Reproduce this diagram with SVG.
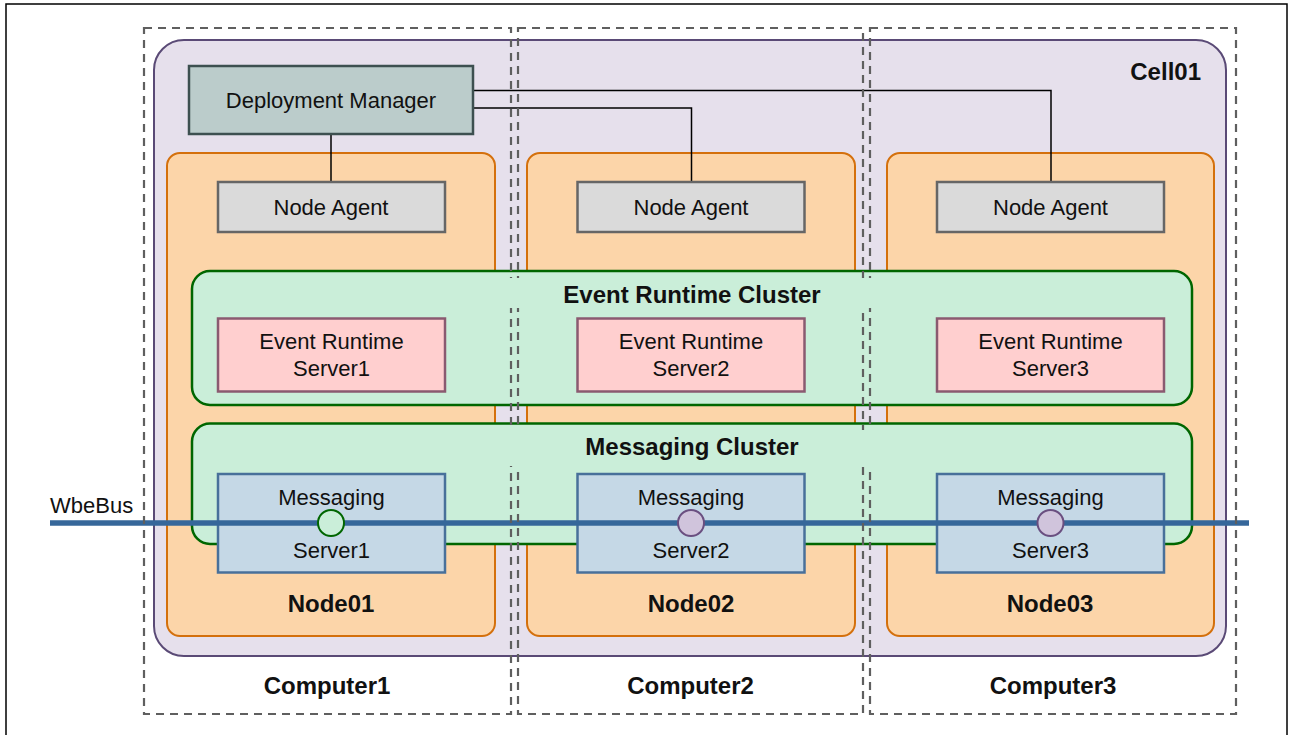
<svg xmlns="http://www.w3.org/2000/svg" width="1292" height="735" viewBox="0 0 1292 735">
  <style>
    .t { font-family: "Liberation Sans", Arial, sans-serif; font-size: 22px; fill: #111; text-anchor: middle; }
    .b { font-family: "Liberation Sans", Arial, sans-serif; font-size: 24px; font-weight: bold; fill: #111; text-anchor: middle; }
    .cell { fill: #e6e0ec; stroke: #5a4a76; stroke-width: 2; }
    .node { fill: #fcd5a9; stroke: #d4700c; stroke-width: 2; }
    .cluster { fill: #caeed9; stroke: #006600; stroke-width: 2.5; }
    .dm { fill: #bbcccb; stroke: #3d5050; stroke-width: 2.5; }
    .agent { fill: #dadada; stroke: #666666; stroke-width: 2.5; }
    .er { fill: #ffcfcf; stroke: #8a5a70; stroke-width: 2.5; }
    .msg { fill: #c5d8e6; stroke: #48709a; stroke-width: 2.5; }
    .computer { fill: none; stroke: #5f5f5f; stroke-width: 2.2; stroke-dasharray: 8 6; }
    .link { fill: none; stroke: #000; stroke-width: 1.5; }
    .bus { stroke: #36679a; stroke-width: 5.5; }
    .ep-green { fill: #caeed9; stroke: #006600; stroke-width: 2; }
    .ep-purple { fill: #d0c4dc; stroke: #6a4f80; stroke-width: 2; }
  </style>
  <defs>
    <!-- the cluster title bands hide the computer boundaries behind them -->
    <mask id="titleBands" maskUnits="userSpaceOnUse" x="0" y="0" width="1292" height="735">
      <rect x="0" y="0" width="1292" height="735" fill="#fff"/>
      <rect x="194" y="278" width="996" height="30" fill="#000"/>
      <rect x="194" y="430" width="996" height="36" fill="#000"/>
    </mask>
  </defs>

  <rect x="0" y="0" width="1292" height="735" fill="#fff"/>
  <rect x="6" y="4" width="1281" height="745" fill="none" stroke="#000" stroke-width="1.5"/>

  <g id="cell01">
    <rect class="cell" x="154" y="40" width="1072" height="616" rx="30" ry="30"/>
    <text class="b" x="1201" y="80" style="text-anchor:end">Cell01</text>
  </g>

  <g id="node01">
    <rect class="node" x="167" y="153" width="328" height="483" rx="13" ry="13"/>
    <text class="b" x="331" y="612">Node01</text>
  </g>
  <g id="node02">
    <rect class="node" x="527" y="153" width="328" height="483" rx="13" ry="13"/>
    <text class="b" x="691" y="612">Node02</text>
  </g>
  <g id="node03">
    <rect class="node" x="887" y="153" width="327" height="483" rx="13" ry="13"/>
    <text class="b" x="1050" y="612">Node03</text>
  </g>

  <g id="connectors">
    <path class="link" d="M331 134 V182"/>
    <path class="link" d="M473 108 H691.5 V182"/>
    <path class="link" d="M473 90.5 H1051 V182"/>
  </g>

  <g id="deployment-manager">
    <rect class="dm" x="189" y="66" width="284" height="68"/>
    <text class="t" x="331" y="108">Deployment Manager</text>
  </g>

  <g id="node-agent1">
    <rect class="agent" x="218" y="182" width="227" height="50"/>
    <text class="t" x="331" y="215">Node Agent</text>
  </g>
  <g id="node-agent2">
    <rect class="agent" x="577.5" y="182" width="227" height="50"/>
    <text class="t" x="691" y="215">Node Agent</text>
  </g>
  <g id="node-agent3">
    <rect class="agent" x="937" y="182" width="227" height="50"/>
    <text class="t" x="1050.5" y="215">Node Agent</text>
  </g>

  <g id="event-runtime-cluster">
    <rect class="cluster" x="192" y="271" width="1000" height="134" rx="18" ry="18"/>
  </g>
  <g id="messaging-cluster">
    <rect class="cluster" x="192" y="423.5" width="1000" height="120.5" rx="18" ry="18"/>
  </g>

  <g id="event-runtime-server1">
    <rect class="er" x="218" y="318.5" width="227" height="73"/>
    <text class="t" x="331.5" y="349">Event Runtime</text>
    <text class="t" x="331.5" y="376">Server1</text>
  </g>
  <g id="event-runtime-server2">
    <rect class="er" x="577.5" y="318.5" width="227" height="73"/>
    <text class="t" x="691" y="349">Event Runtime</text>
    <text class="t" x="691" y="376">Server2</text>
  </g>
  <g id="event-runtime-server3">
    <rect class="er" x="937" y="318.5" width="227" height="73"/>
    <text class="t" x="1050.5" y="349">Event Runtime</text>
    <text class="t" x="1050.5" y="376">Server3</text>
  </g>

  <g id="messaging-server1">
    <rect class="msg" x="218" y="474" width="227" height="98.5"/>
    <text class="t" x="331.5" y="505">Messaging</text>
    <text class="t" x="331.5" y="558">Server1</text>
  </g>
  <g id="messaging-server2">
    <rect class="msg" x="577.5" y="474" width="227" height="98.5"/>
    <text class="t" x="691" y="505">Messaging</text>
    <text class="t" x="691" y="558">Server2</text>
  </g>
  <g id="messaging-server3">
    <rect class="msg" x="937" y="474" width="227" height="98.5"/>
    <text class="t" x="1050.5" y="505">Messaging</text>
    <text class="t" x="1050.5" y="558">Server3</text>
  </g>

  <g id="wbebus">
    <line class="bus" x1="50" y1="523" x2="1249" y2="523"/>
    <text class="t" x="50" y="513" style="text-anchor:start">WbeBus</text>
    <circle class="ep-green" cx="331" cy="523" r="13"/>
    <circle class="ep-purple" cx="691" cy="523" r="13"/>
    <circle class="ep-purple" cx="1050.5" cy="523" r="13"/>
  </g>

  <g id="computers" mask="url(#titleBands)">
    <g id="computer1">
      <rect class="computer" x="144" y="28" width="367" height="686"/>
    </g>
    <g id="computer2">
      <rect class="computer" x="518" y="28" width="345" height="686"/>
    </g>
    <g id="computer3">
      <rect class="computer" x="870" y="28" width="366" height="686"/>
    </g>
  </g>

  <g id="labels">
    <text class="b" x="692" y="303">Event Runtime Cluster</text>
    <text class="b" x="692" y="455">Messaging Cluster</text>
    <text class="b" x="327" y="694">Computer1</text>
    <text class="b" x="690.5" y="694">Computer2</text>
    <text class="b" x="1053" y="694">Computer3</text>
  </g>
</svg>
